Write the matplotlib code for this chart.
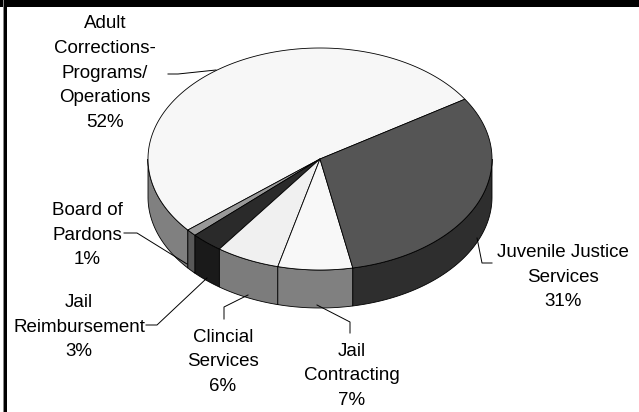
import numpy as np
import matplotlib
matplotlib.use("Agg")
import matplotlib.pyplot as plt
from matplotlib.patches import Polygon, Rectangle

# budget shares, counterclockwise from the big slice
labels = ["Adult\nCorrections-\nPrograms/\nOperations", "Board of\nPardons", "Jail\nReimbursement",
          "Clincial\nServices", "Jail\nContracting", "Juvenile Justice\nServices"]
values = [52, 1, 3, 6, 7, 31]
top_colors = ["#f7f7f7", "#999999", "#2a2a2a", "#f0f0f0", "#f8f8f8", "#555555"]
side_colors = ["#808080", "#595959", "#1a1a1a", "#7c7c7c", "#808080", "#2e2e2e"]

# label centres and leader lines (pixel coords)
label_pos = [(105, 73), (87, 235), (79, 327), (223, 362), (352, 376), (563, 277)]
leaders = [
    [(168, 74), (178, 74), (216, 70)],
    [(124, 233), (137, 233), (187, 264)],
    [(146, 325), (157, 325), (207, 278)],
    [(224, 319), (224, 307), (248, 295)],
    [(317, 305), (350, 322), (350, 333)],
    [(477, 238), (482, 263), (492, 263)],
]

cx, cy = 320, 159
rx, ry = 172, 111
depth = 38
start = 32.6

fig = plt.figure(figsize=(6.39, 4.12), dpi=100)
ax = fig.add_axes([0, 0, 1, 1])
ax.set_xlim(0, 639)
ax.set_ylim(412, 0)
ax.axis("off")


def rim(a1, a2, n=200, dy=0):
    t = np.radians(np.linspace(a1, a2, n))
    return np.column_stack([cx + rx * np.cos(t), cy - ry * np.sin(t) + dy])


angles = start + np.concatenate([[0], np.cumsum(values)]) * 360 / sum(values)

# side walls, only the front half of the cylinder shows
for i in range(len(values)):
    a1, a2 = angles[i], angles[i + 1]
    for off in (0, 360, -360):
        lo, hi = max(a1 + off, 180), min(a2 + off, 360)
        if hi > lo:
            top = rim(lo, hi)
            bot = rim(hi, lo, dy=depth)
            ax.add_patch(Polygon(np.vstack([top, bot]), closed=True, facecolor=side_colors[i],
                                 edgecolor="black", linewidth=0.6, zorder=2))

# top faces
for i in range(len(values)):
    pts = np.vstack([[cx, cy], rim(angles[i], angles[i + 1])])
    ax.add_patch(Polygon(pts, closed=True, facecolor=top_colors[i], edgecolor="black",
                         linewidth=0.6, joinstyle="round", zorder=3))

for i, lab in enumerate(labels):
    x, y = label_pos[i]
    ax.text(x, y, f"{lab}\n{values[i]}%", ha="center", va="center", fontsize=13.5,
            family="Liberation Sans", linespacing=1.58, zorder=5)
    pts = np.array(leaders[i])
    ax.plot(pts[:, 0], pts[:, 1], color="black", linewidth=0.7, zorder=4)

# frame: heavy bar on top, rule down the left
ax.add_patch(Rectangle((0, 0), 639, 7, facecolor="black", edgecolor="none", zorder=6))
ax.add_patch(Rectangle((4, 0), 3, 412, facecolor="black", edgecolor="none", zorder=6))
ax.add_patch(Rectangle((3, 0), 1, 412, facecolor="#888888", edgecolor="none", zorder=6))

fig.savefig("out.png", dpi=100)
